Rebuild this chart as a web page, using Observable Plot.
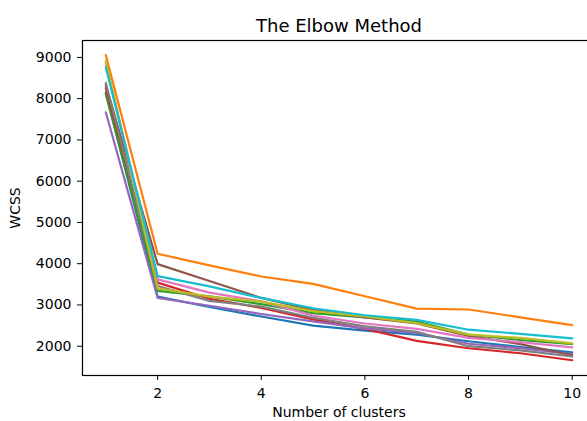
<!DOCTYPE html>
<html><head><meta charset="utf-8">
<script src="https://cdn.jsdelivr.net/npm/d3@7"></script>
<script src="https://cdn.jsdelivr.net/npm/@observablehq/plot@0.6"></script>
<style>
html,body{margin:0;padding:0;background:#fff;overflow:hidden;}
</style></head><body><div id="chart"></div>
<script>
const clusters = [1, 2, 3, 4, 5, 6, 7, 8, 9, 10];
const seriesNames = ["run 1", "run 2", "run 3", "run 4", "run 5", "run 6", "run 7", "run 8", "run 9", "run 10"];
const run1  = [8150, 3200, 2950, 2720, 2500, 2380, 2280, 2120, 1980, 1850];
const run2  = [9055, 4240, 3960, 3690, 3510, 3210, 2910, 2890, 2700, 2510];
const run3  = [8110, 3340, 3210, 3020, 2800, 2700, 2600, 2280, 2150, 2050];
const run4  = [8260, 3540, 3150, 2930, 2650, 2420, 2130, 1950, 1830, 1660];
const run5  = [7670, 3170, 2980, 2780, 2600, 2430, 2320, 2060, 1950, 1810];
const run6  = [8330, 3990, 3580, 3170, 2880, 2700, 2550, 2250, 2050, 1780];
const run7  = [8850, 3620, 3300, 3090, 2740, 2550, 2420, 2200, 2100, 1970];
const run8  = [8380, 3460, 3100, 2960, 2690, 2480, 2350, 2000, 1900, 1750];
const run9  = [8920, 3400, 3200, 3080, 2850, 2720, 2560, 2280, 2200, 2070];
const run10 = [8760, 3700, 3450, 3170, 2920, 2750, 2640, 2400, 2300, 2190];
const xTicks = [2, 4, 6, 8, 10];
const yTicks = [2000, 3000, 4000, 5000, 6000, 7000, 8000, 9000];
const palette = ["#1f77b4", "#ff7f0e", "#2ca02c", "#d62728", "#9467bd", "#8c564b", "#e377c2", "#7f7f7f", "#bcbd22", "#17becf"];

const seriesValues = [run1, run2, run3, run4, run5, run6, run7, run8, run9, run10];
const rows = seriesValues.flatMap((vals, i) => vals.map((v, j) => ({k: clusters[j], wcss: v, s: seriesNames[i]})));

const chart = Plot.plot({
  width: 587, height: 421,
  marginTop: 40, marginBottom: 46, marginLeft: 82, marginRight: -8,
  style: {fontFamily: "DejaVu Sans", fontSize: "15px", color: "#000", background: "#fff"},
  x: {domain: [0.55, 10.45]},
  y: {domain: [1290, 9410]},
  color: {domain: seriesNames, range: palette},
  marks: [
    Plot.line(rows, {x: "k", y: "wcss", stroke: "s", strokeWidth: 2.2}),
    Plot.frame({stroke: "#000", strokeWidth: 1.2}),
    Plot.axisX({ticks: xTicks, tickSize: 5, tickPadding: 8, fontSize: 14, label: "Number of clusters", labelAnchor: "center", labelArrow: "none", labelOffset: 41}),
    Plot.axisY({ticks: yTicks, tickSize: 5, tickPadding: 6, fontSize: 14, tickFormat: d3.format("d"), label: "WCSS", labelAnchor: "center", labelArrow: "none", labelOffset: 72}),
    Plot.text(["The Elbow Method"], {frameAnchor: "top", dy: -21, fontSize: 18})
  ]
});
document.getElementById("chart").appendChild(chart);
</script></body></html>
